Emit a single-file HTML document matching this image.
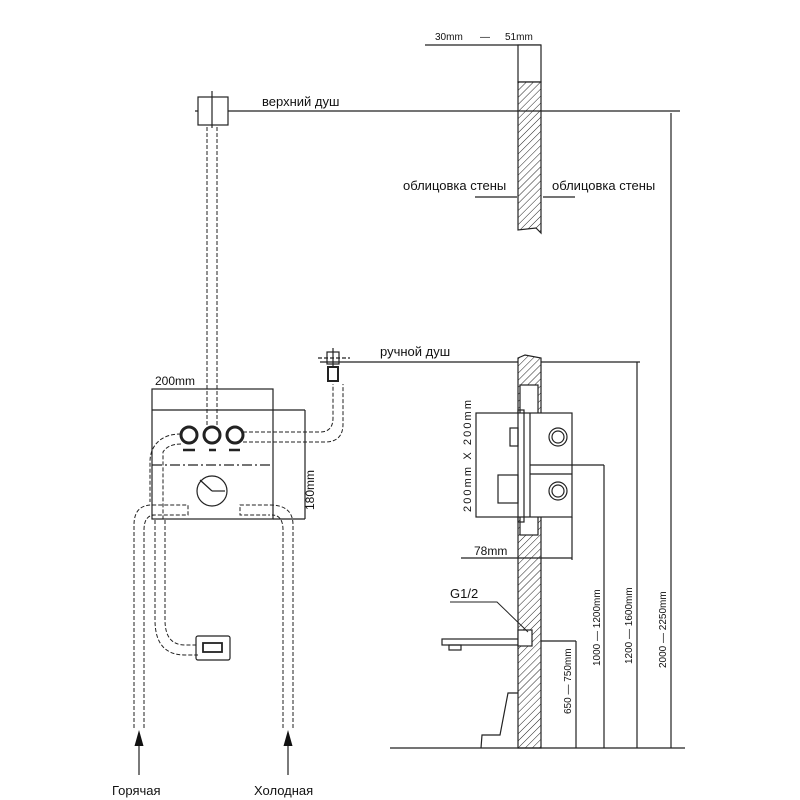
<!DOCTYPE html>
<html><head><meta charset="utf-8"><style>
html,body{margin:0;padding:0;background:#fff}
svg{display:block}
text{font-family:"Liberation Sans","DejaVu Sans",sans-serif;fill:#111}
</style></head><body>
<svg width="800" height="800" viewBox="0 0 800 800" xmlns="http://www.w3.org/2000/svg">
<defs>
<pattern id="h" width="5" height="5" patternUnits="userSpaceOnUse" patternTransform="rotate(45)">
<rect width="5" height="5" fill="#fff"/><line x1="0" y1="0" x2="0" y2="5" stroke="#222" stroke-width="1"/>
</pattern>
</defs>
<g stroke="#222" stroke-width="1.2" fill="none">
<!-- top wall -->
<line x1="425" y1="45" x2="541" y2="45"/>
<rect x="518" y="45" width="23" height="37" fill="#fff"/>
<path d="M518,82 H541 V233 L536,228 L518,230 Z" fill="url(#h)"/>
<line x1="195" y1="111" x2="680" y2="111"/>
<line x1="475" y1="197" x2="517" y2="197"/>
<line x1="543" y1="197" x2="575" y2="197"/>
<!-- top shower -->
<rect x="198" y="97" width="30" height="28" fill="#fff"/>
<line x1="212" y1="91" x2="212" y2="128"/>
<g stroke-dasharray="4,2" stroke-width="1">
<line x1="207" y1="127" x2="207" y2="430"/><line x1="217" y1="127" x2="217" y2="430"/>
</g>
<!-- dimension verticals -->
<line x1="671" y1="113" x2="671" y2="748"/>
<line x1="637" y1="362" x2="637" y2="748"/>
<line x1="604" y1="465" x2="604" y2="748"/>
<line x1="576" y1="641" x2="576" y2="748"/>
<line x1="541" y1="641" x2="576" y2="641"/>
<line x1="320" y1="362" x2="640" y2="362"/>
<line x1="498" y1="465" x2="604" y2="465"/>
<!-- lower wall -->
<path d="M518,358 L525,355 L541,358 V748 H518 Z" fill="url(#h)"/>
<rect x="520" y="385" width="18" height="150" fill="#fff"/>
<!-- module -->
<rect x="476" y="413" width="96" height="104" fill="#fff"/>
<rect x="518" y="410" width="6" height="112"/>
<line x1="530" y1="413" x2="530" y2="517"/>
<line x1="530" y1="465" x2="572" y2="465"/>
<line x1="530" y1="474" x2="572" y2="474"/>
<circle cx="558" cy="437" r="9"/><circle cx="558" cy="437" r="6"/>
<circle cx="558" cy="491" r="9"/><circle cx="558" cy="491" r="6"/>
<rect x="510" y="428" width="8" height="18"/>
<rect x="498" y="475" width="20" height="28"/>
<line x1="461" y1="558" x2="572" y2="558"/>
<line x1="572" y1="517" x2="572" y2="560"/>
<!-- floor -->
<line x1="390" y1="748" x2="685" y2="748"/>
<!-- spout -->
<rect x="442" y="639" width="78" height="6"/>
<rect x="518" y="630" width="14" height="16" fill="#fff"/>
<rect x="449" y="645" width="12" height="5"/>
<path d="M450,602 H497 L528,632" stroke-width="1"/>
<path d="M518,693 H508 L500,735 H482 L481,748"/>
<!-- left box -->
<rect x="152" y="389" width="121" height="130"/>
<line x1="152" y1="410" x2="305" y2="410"/>
<line x1="305" y1="410" x2="305" y2="519"/>
<line x1="273" y1="519" x2="305" y2="519"/>
<line x1="152" y1="465" x2="273" y2="465" stroke-dasharray="10,3,2,3"/>
<circle cx="189" cy="435" r="8" stroke-width="3"/>
<circle cx="212" cy="435" r="8" stroke-width="3"/>
<circle cx="235" cy="435" r="8" stroke-width="3"/>
<path d="M183,450 H195 M209,450 H216 M229,450 H240" stroke-width="2.5"/>
<circle cx="212" cy="491" r="15"/>
<line x1="212" y1="491" x2="200" y2="480"/><line x1="212" y1="491" x2="225" y2="491"/>
<g stroke-dasharray="4,2" stroke-width="1">
<path d="M243,432 H320 Q333,432 333,418 V384"/>
<path d="M243,442 H325 Q343,442 343,424 V384"/>
<path d="M181,434 Q168,434 160,440 Q150,448 150,462 V502"/>
<path d="M181,444 Q168,444 163,452 V520"/>
<path d="M134,728 V525 Q134,505 152,505 H188 V515 H152"/>
<path d="M144,728 V530 Q144,515 155,515"/>
<path d="M293,728 V525 Q293,505 270,505 H240 V515 H270"/>
<path d="M283,728 V530 Q283,515 272,515"/>
<path d="M155,520 V620 Q155,655 185,655 H198"/>
<path d="M165,520 V620 Q165,645 185,645 H198"/>
</g>
<rect x="196" y="636" width="34" height="24" rx="2"/>
<rect x="203" y="643" width="19" height="9" stroke-width="1.8"/>
<!-- hand shower fitting -->
<rect x="327" y="352" width="12" height="12"/>
<line x1="333" y1="348" x2="333" y2="368"/>
<line x1="318" y1="358" x2="350" y2="358" stroke-dasharray="4,2"/>
<rect x="328" y="367" width="10" height="14" stroke-width="2"/>
<!-- arrows -->
<line x1="139" y1="775" x2="139" y2="742"/>
<line x1="288" y1="775" x2="288" y2="742"/>
</g>
<path d="M134.5,746 L139,730 L143.5,746 Z" fill="#111"/>
<path d="M283.5,746 L288,730 L292.5,746 Z" fill="#111"/>
<g font-size="13">
<text x="435" y="40" font-size="10">30mm</text><text x="480" y="40" font-size="10">—</text><text x="505" y="40" font-size="10">51mm</text>
<text x="262" y="106">верхний душ</text>
<text x="403" y="190">облицовка стены</text>
<text x="552" y="190">облицовка стены</text>
<text x="380" y="356">ручной душ</text>
<text x="155" y="385" font-size="12">200mm</text>
<text x="0" y="0" font-size="12" transform="translate(314,510) rotate(-90)">180mm</text>
<text x="0" y="0" font-size="11" textLength="112" lengthAdjust="spacing" transform="translate(471,512) rotate(-90)">200mm X 200mm</text>
<text x="474" y="555" font-size="12">78mm</text>
<text x="450" y="598">G1/2</text>
<text x="0" y="0" font-size="10" transform="translate(600,666) rotate(-90)">1000 — 1200mm</text>
<text x="0" y="0" font-size="10" transform="translate(632,664) rotate(-90)">1200 — 1600mm</text>
<text x="0" y="0" font-size="10" transform="translate(666,668) rotate(-90)">2000 — 2250mm</text>
<text x="0" y="0" font-size="10" transform="translate(571,714) rotate(-90)">650 — 750mm</text>
<text x="112" y="795">Горячая</text>
<text x="254" y="795">Холодная</text>
</g>
</svg>
</body></html>
